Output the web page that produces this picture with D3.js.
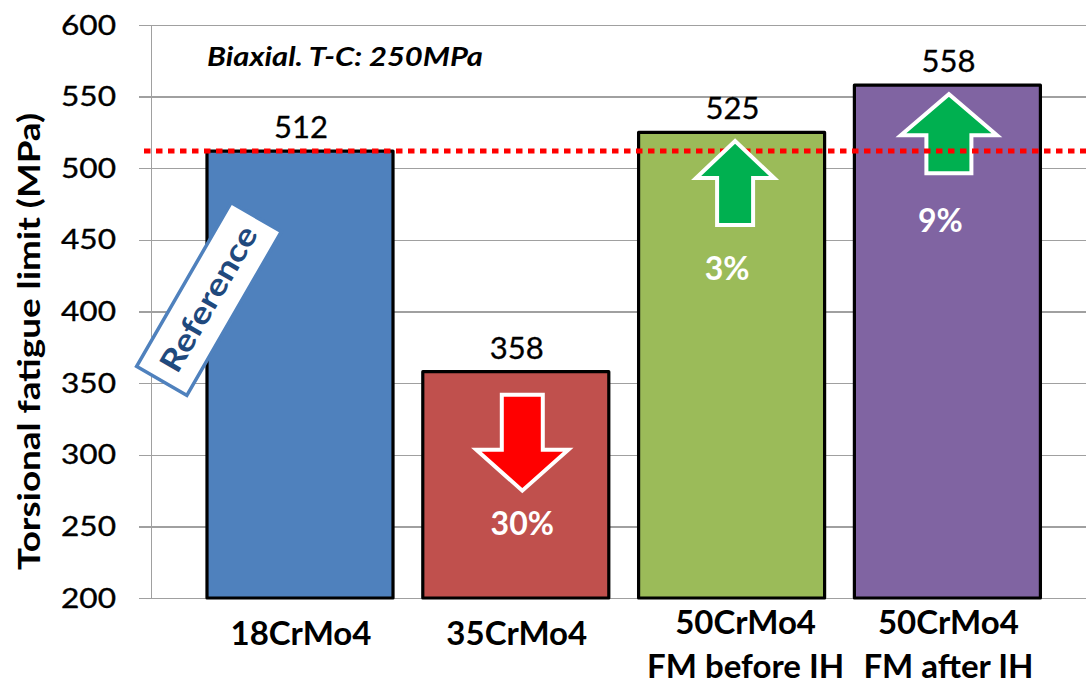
<!DOCTYPE html>
<html>
<head>
<meta charset="utf-8">
<script src="https://cdn.jsdelivr.net/npm/d3@7"></script>
<style>
  html, body { margin: 0; padding: 0; background: #fff; }
  svg { display: block; }
  text { font-family: Lato, "Open Sans", "Liberation Sans", sans-serif; }
</style>
</head>
<body>
<svg id="chart" width="1086" height="684"></svg>
<script>
// Torsional fatigue limit per steel grade
const categories = ["18CrMo4", "35CrMo4", "50CrMo4 FM before IH", "50CrMo4 FM after IH"];
const categoryLines = [["18CrMo4"], ["35CrMo4"], ["50CrMo4", "FM before IH"], ["50CrMo4", "FM after IH"]];
const fatigueLimits = [512, 358, 525, 558];
const barColors = ["#4F81BD", "#C0504D", "#9BBB59", "#8064A2"];
const referenceIndex = 0;
const yTicks = [200, 250, 300, 350, 400, 450, 500, 550, 600];
const yDomain = [200, 600];
const annotationText = "Biaxial. T-C: 250MPa";
const yTitle = "Torsional fatigue limit (MPa)";

// Change-arrow shapes, measured from each bar's top edge
const arrowStyles = [
  null,
  { dir: "down", fill: "#FF0000", dx: 6.5, start: 23, neck: 78, tip: 119, headHalf: 46, shaftHalf: 20.5, textDx: 0, textY: 163, aboveLine: true },
  { dir: "up", fill: "#00B050", dx: 3.5, start: 92.6, neck: 45.6, tip: 8.6, headHalf: 39, shaftHalf: 18, textDx: -8, textY: 147.6, aboveLine: true },
  { dir: "up", fill: "#00B050", dx: 1.5, start: 88, neck: 50, tip: 9, headHalf: 48, shaftHalf: 22.5, textDx: -8.5, textY: 147, aboveLine: false }
];

const svg = d3.select("#chart");

const x = d3.scaleBand()
  .domain(categories)
  .range([192.1, 1055.3])
  .paddingInner(0.138)
  .paddingOuter(0.069);

const y = d3.scaleLinear().domain(yDomain).range([598, 25]);

const axisX = 151.5;
const gridColor = "#A0A0A0";

// Horizontal gridlines with outward tick stubs
const yAxis = d3.axisLeft(y)
  .tickValues(yTicks)
  .tickSize(-(1086 - axisX))
  .tickSizeOuter(0)
  .tickPadding(0)
  .tickFormat("");

const gAxis = svg.append("g")
  .attr("transform", `translate(${axisX},0)`)
  .call(yAxis);
gAxis.select(".domain").remove();
gAxis.selectAll(".tick line")
  .attr("x1", -13)
  .attr("stroke", gridColor)
  .attr("stroke-width", 1.3)
  .attr("shape-rendering", "crispEdges");

// Vertical axis line
svg.append("line")
  .attr("x1", axisX).attr("x2", axisX)
  .attr("y1", y(yDomain[1])).attr("y2", y(yDomain[0]))
  .attr("stroke", gridColor).attr("stroke-width", 1.3)
  .attr("shape-rendering", "crispEdges");

// Tick labels
svg.append("g").selectAll("text")
  .data(yTicks)
  .join("text")
  .attr("x", 116)
  .attr("y", d => y(d) + 9.5)
  .attr("text-anchor", "end")
  .attr("font-size", 27)
  .attr("textLength", 55)
  .attr("lengthAdjust", "spacingAndGlyphs")
  .attr("fill", "#000")
  .attr("stroke", "#000")
  .attr("stroke-width", 0.35)
  .text(d => d);

// Bars
svg.append("g").selectAll("rect")
  .data(fatigueLimits)
  .join("rect")
  .attr("x", (d, i) => x(categories[i]))
  .attr("y", d => y(d))
  .attr("width", x.bandwidth())
  .attr("height", d => y(yDomain[0]) - y(d))
  .attr("fill", (d, i) => barColors[i])
  .attr("stroke", "#000")
  .attr("stroke-width", 3.2)
  .attr("stroke-linejoin", "round");

// Value labels above bars
svg.append("g").selectAll("text")
  .data(fatigueLimits)
  .join("text")
  .attr("x", (d, i) => x(categories[i]) + x.bandwidth() / 2 + 1)
  .attr("y", d => y(d) - 13)
  .attr("text-anchor", "middle")
  .attr("font-size", 31)
  .attr("fill", "#000")
  .attr("stroke", "#000")
  .attr("stroke-width", 0.3)
  .text(d => d);

// Category labels
const catG = svg.append("g");
categoryLines.forEach((lines, i) => {
  const cx = x(categories[i]) + x.bandwidth() / 2 + (lines.length > 1 && i === 2 ? 14 : 1);
  const t = catG.append("text")
    .attr("text-anchor", "middle")
    .attr("font-size", 33)
    .attr("font-weight", "bold")
    .attr("fill", "#000");
  lines.forEach((line, j) => {
    t.append("tspan")
      .attr("x", cx)
      .attr("y", lines.length > 1 ? 634 + j * 44 : 645)
      .text(line);
  });
});

// Arrow path builder
function arrowPath(cx, top, s) {
  const yStart = top + s.start;
  const yNeck = top + s.neck;
  const yTip = top + s.tip;
  return d3.line()([
    [cx - s.shaftHalf, yStart],
    [cx - s.shaftHalf, yNeck],
    [cx - s.headHalf, yNeck],
    [cx, yTip],
    [cx + s.headHalf, yNeck],
    [cx + s.shaftHalf, yNeck],
    [cx + s.shaftHalf, yStart]
  ]) + "Z";
}

function drawArrows(layer, above) {
  arrowStyles.forEach((s, i) => {
    if (!s || s.aboveLine !== above) return;
    const cx = x(categories[i]) + x.bandwidth() / 2 + s.dx;
    layer.append("path")
      .attr("d", arrowPath(cx, y(fatigueLimits[i]), s))
      .attr("fill", s.fill)
      .attr("stroke", "#fff")
      .attr("stroke-width", 4)
      .attr("stroke-linejoin", "miter");
  });
}

// Percentage change versus the reference grade
const refValue = fatigueLimits[referenceIndex];
const pctG = svg.append("g");
arrowStyles.forEach((s, i) => {
  if (!s) return;
  const pct = Math.round(Math.abs(fatigueLimits[i] / refValue - 1) * 100);
  pctG.append("text")
    .attr("x", x(categories[i]) + x.bandwidth() / 2 + s.dx + s.textDx)
    .attr("y", y(fatigueLimits[i]) + s.textY)
    .attr("text-anchor", "middle")
    .attr("font-size", 32)
    .attr("font-weight", "bold")
    .attr("fill", "#fff")
    .text(pct + "%");
});

drawArrows(svg.append("g"), false);

// Reference level dotted line
svg.append("line")
  .attr("x1", 144).attr("x2", 1086)
  .attr("y1", y(refValue)).attr("y2", y(refValue))
  .attr("stroke", "#FF0000")
  .attr("stroke-width", 5)
  .attr("stroke-dasharray", "6.5 5.5");

drawArrows(svg.append("g"), true);

// "Reference" tag on the reference bar
const tagX = x(categories[referenceIndex]) + 2;
const tagY = y(400) - 12.5;
const tag = svg.append("g").attr("transform", `translate(${tagX},${tagY}) rotate(-60)`);
tag.append("rect")
  .attr("x", -94.5).attr("y", -29)
  .attr("width", 189).attr("height", 58)
  .attr("fill", "#fff")
  .attr("stroke", "#4F81BD")
  .attr("stroke-width", 3.5);
tag.append("text")
  .attr("x", 0).attr("y", 10.5)
  .attr("text-anchor", "middle")
  .attr("font-size", 31)
  .attr("font-weight", "bold")
  .attr("textLength", 163)
  .attr("lengthAdjust", "spacingAndGlyphs")
  .attr("fill", "#1F497D")
  .text("Reference");

// Test condition note
svg.append("text")
  .attr("x", 207).attr("y", 66)
  .attr("font-size", 27)
  .attr("font-weight", "bold")
  .attr("font-style", "italic")
  .attr("textLength", 276)
  .attr("lengthAdjust", "spacingAndGlyphs")
  .attr("fill", "#000")
  .text(annotationText);

// Y-axis title
svg.append("text")
  .attr("transform", "translate(40,341.5) rotate(-90)")
  .attr("text-anchor", "middle")
  .attr("font-size", 30)
  .attr("font-weight", "bold")
  .attr("textLength", 457)
  .attr("lengthAdjust", "spacingAndGlyphs")
  .attr("fill", "#000")
  .text(yTitle);
</script>
</body>
</html>
